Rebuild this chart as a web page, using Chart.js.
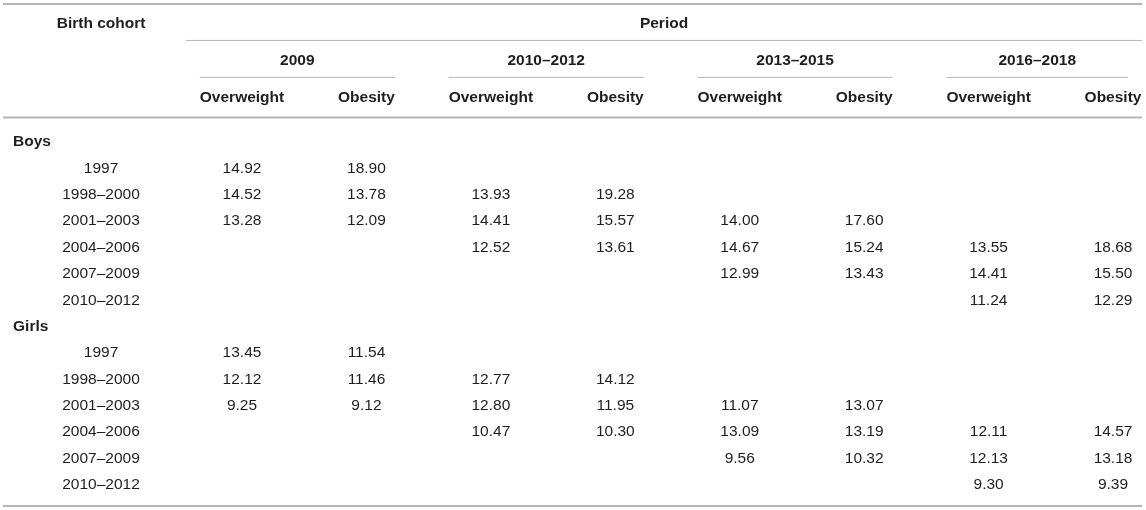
<!DOCTYPE html>
<html>
<head>
<meta charset="utf-8">
<script src="https://cdn.jsdelivr.net/npm/chart.js@4/dist/chart.umd.min.js"></script>
<style>
  html, body { margin: 0; padding: 0; background: #fff; }
  #wrap { width: 1146px; height: 510px; position: relative; }
</style>
</head>
<body>
<div id="wrap"><canvas id="table"></canvas></div>
<script>
// ---- table data ----
const periods = ['2009', '2010–2012', '2013–2015', '2016–2018'];
const measures = ['Overweight', 'Obesity'];
const groups = ['Boys', 'Girls'];
const cohorts = ['1997', '1998–2000', '2001–2003', '2004–2006', '2007–2009', '2010–2012'];

// columns: 2009 OW, 2009 OB, 2010–2012 OW, OB, 2013–2015 OW, OB, 2016–2018 OW, OB
const boysValues = [
    [14.92, 18.90, null, null, null, null, null, null],
    [14.52, 13.78, 13.93, 19.28, null, null, null, null],
    [13.28, 12.09, 14.41, 15.57, 14.00, 17.60, null, null],
    [null, null, 12.52, 13.61, 14.67, 15.24, 13.55, 18.68],
    [null, null, null, null, 12.99, 13.43, 14.41, 15.50],
    [null, null, null, null, null, null, 11.24, 12.29]
];
const girlsValues = [
    [13.45, 11.54, null, null, null, null, null, null],
    [12.12, 11.46, 12.77, 14.12, null, null, null, null],
    [9.25, 9.12, 12.80, 11.95, 11.07, 13.07, null, null],
    [null, null, 10.47, 10.30, 13.09, 13.19, 12.11, 14.57],
    [null, null, null, null, 9.56, 10.32, 12.13, 13.18],
    [null, null, null, null, null, null, 9.30, 9.39]
];

// ---- layout (column units on x, row units on y) ----
const FONT = '"Liberation Sans", Arial, Helvetica, sans-serif';
const SIZE = 15.5;
const TEXT = '#1e1e1e';
const RULE = '#b4b4b4';
const cohortCol = -0.133;
const groupLabelX = -0.84;
const ruleLeft = -0.921, ruleRight = 8.233, periodLeft = 0.55;
const headRows = { top: -5.23, title: -4.47, periodLine: -3.85, period: -3.07, groupLine: -2.45, measure: -1.68, headRule: -0.93, bottom: 13.8 };

// body rows: group label then its cohorts
const rowLabels = [];
const datasets = [];
for (let c = 0; c < 8; c++) datasets.push({ label: 'col' + c, data: [], pointRadius: 0 });
groups.forEach((g, gi) => {
    const vals = gi === 0 ? boysValues : girlsValues;
    rowLabels.push({ text: g, bold: true, row: rowLabels.length });
    cohorts.forEach((coh, r) => {
        const row = rowLabels.length;
        rowLabels.push({ text: coh, bold: false, row: row });
        vals[r].forEach((v, c) => {
            if (v !== null) datasets[c].data.push({ x: c + 1, y: row, v: v });
        });
    });
});

function hline(ctx, x0, x1, y, w) {
    ctx.strokeStyle = RULE;
    ctx.lineWidth = w;
    ctx.beginPath();
    ctx.moveTo(x0, y);
    ctx.lineTo(x1, y);
    ctx.stroke();
}

const tablePlugin = {
    id: 'tableText',
    afterDatasetsDraw(chart) {
        const { ctx } = chart;
        const x = chart.scales.x, y = chart.scales.y;
        const bold = 'bold ' + SIZE + 'px ' + FONT;
        const reg = SIZE + 'px ' + FONT;
        ctx.save();
        ctx.textBaseline = 'middle';
        ctx.fillStyle = TEXT;

        // rules
        hline(ctx, x.getPixelForValue(ruleLeft), x.getPixelForValue(ruleRight), y.getPixelForValue(headRows.top), 2);
        hline(ctx, x.getPixelForValue(periodLeft), x.getPixelForValue(ruleRight), y.getPixelForValue(headRows.periodLine), 1);
        hline(ctx, x.getPixelForValue(ruleLeft), x.getPixelForValue(ruleRight), y.getPixelForValue(headRows.headRule), 2);
        hline(ctx, x.getPixelForValue(ruleLeft), x.getPixelForValue(ruleRight), y.getPixelForValue(headRows.bottom), 2);

        // header titles
        ctx.font = bold;
        ctx.textAlign = 'center';
        ctx.fillText('Birth cohort', x.getPixelForValue(cohortCol), y.getPixelForValue(headRows.title));
        const pl = x.getPixelForValue(periodLeft), pr = x.getPixelForValue(ruleRight);
        ctx.fillText('Period', (pl + pr) / 2, y.getPixelForValue(headRows.title));

        // period groups and measures
        periods.forEach((p, pi) => {
            const owX = x.getPixelForValue(pi * 2 + 1);
            const obX = x.getPixelForValue(pi * 2 + 2);
            const owW = ctx.measureText(measures[0]).width;
            const obW = ctx.measureText(measures[1]).width;
            const l = owX - owW / 2;
            let r = obX + obW / 2;
            if (pi === periods.length - 1) r = Math.min(r, pr - 14);
            hline(ctx, l, r, y.getPixelForValue(headRows.groupLine), 1);
            ctx.fillText(p, (l + r) / 2, y.getPixelForValue(headRows.period));
            ctx.fillText(measures[0], owX, y.getPixelForValue(headRows.measure));
            ctx.fillText(measures[1], obX, y.getPixelForValue(headRows.measure));
        });

        // row labels
        rowLabels.forEach(rl => {
            if (rl.bold) {
                ctx.font = bold;
                ctx.textAlign = 'left';
                ctx.fillText(rl.text, x.getPixelForValue(groupLabelX), y.getPixelForValue(rl.row));
            } else {
                ctx.font = reg;
                ctx.textAlign = 'center';
                ctx.fillText(rl.text, x.getPixelForValue(cohortCol), y.getPixelForValue(rl.row));
            }
        });

        // cell values at the dataset points
        ctx.font = reg;
        ctx.textAlign = 'center';
        chart.data.datasets.forEach((ds, i) => {
            chart.getDatasetMeta(i).data.forEach((pt, j) => {
                ctx.fillText(ds.data[j].v.toFixed(2), pt.x, pt.y);
            });
        });
        ctx.restore();
    }
};

new Chart(document.getElementById('table'), {
    type: 'scatter',
    data: { datasets: datasets },
    options: {
        responsive: true,
        maintainAspectRatio: false,
        animation: false,
        layout: { padding: 0 },
        plugins: { legend: { display: false }, tooltip: { enabled: false } },
        scales: {
            x: { type: 'linear', min: -0.945, max: 8.265, display: false },
            y: { type: 'linear', min: -5.383, max: 13.95, reverse: true, display: false }
        }
    },
    plugins: [tablePlugin]
});
</script>
</body>
</html>
